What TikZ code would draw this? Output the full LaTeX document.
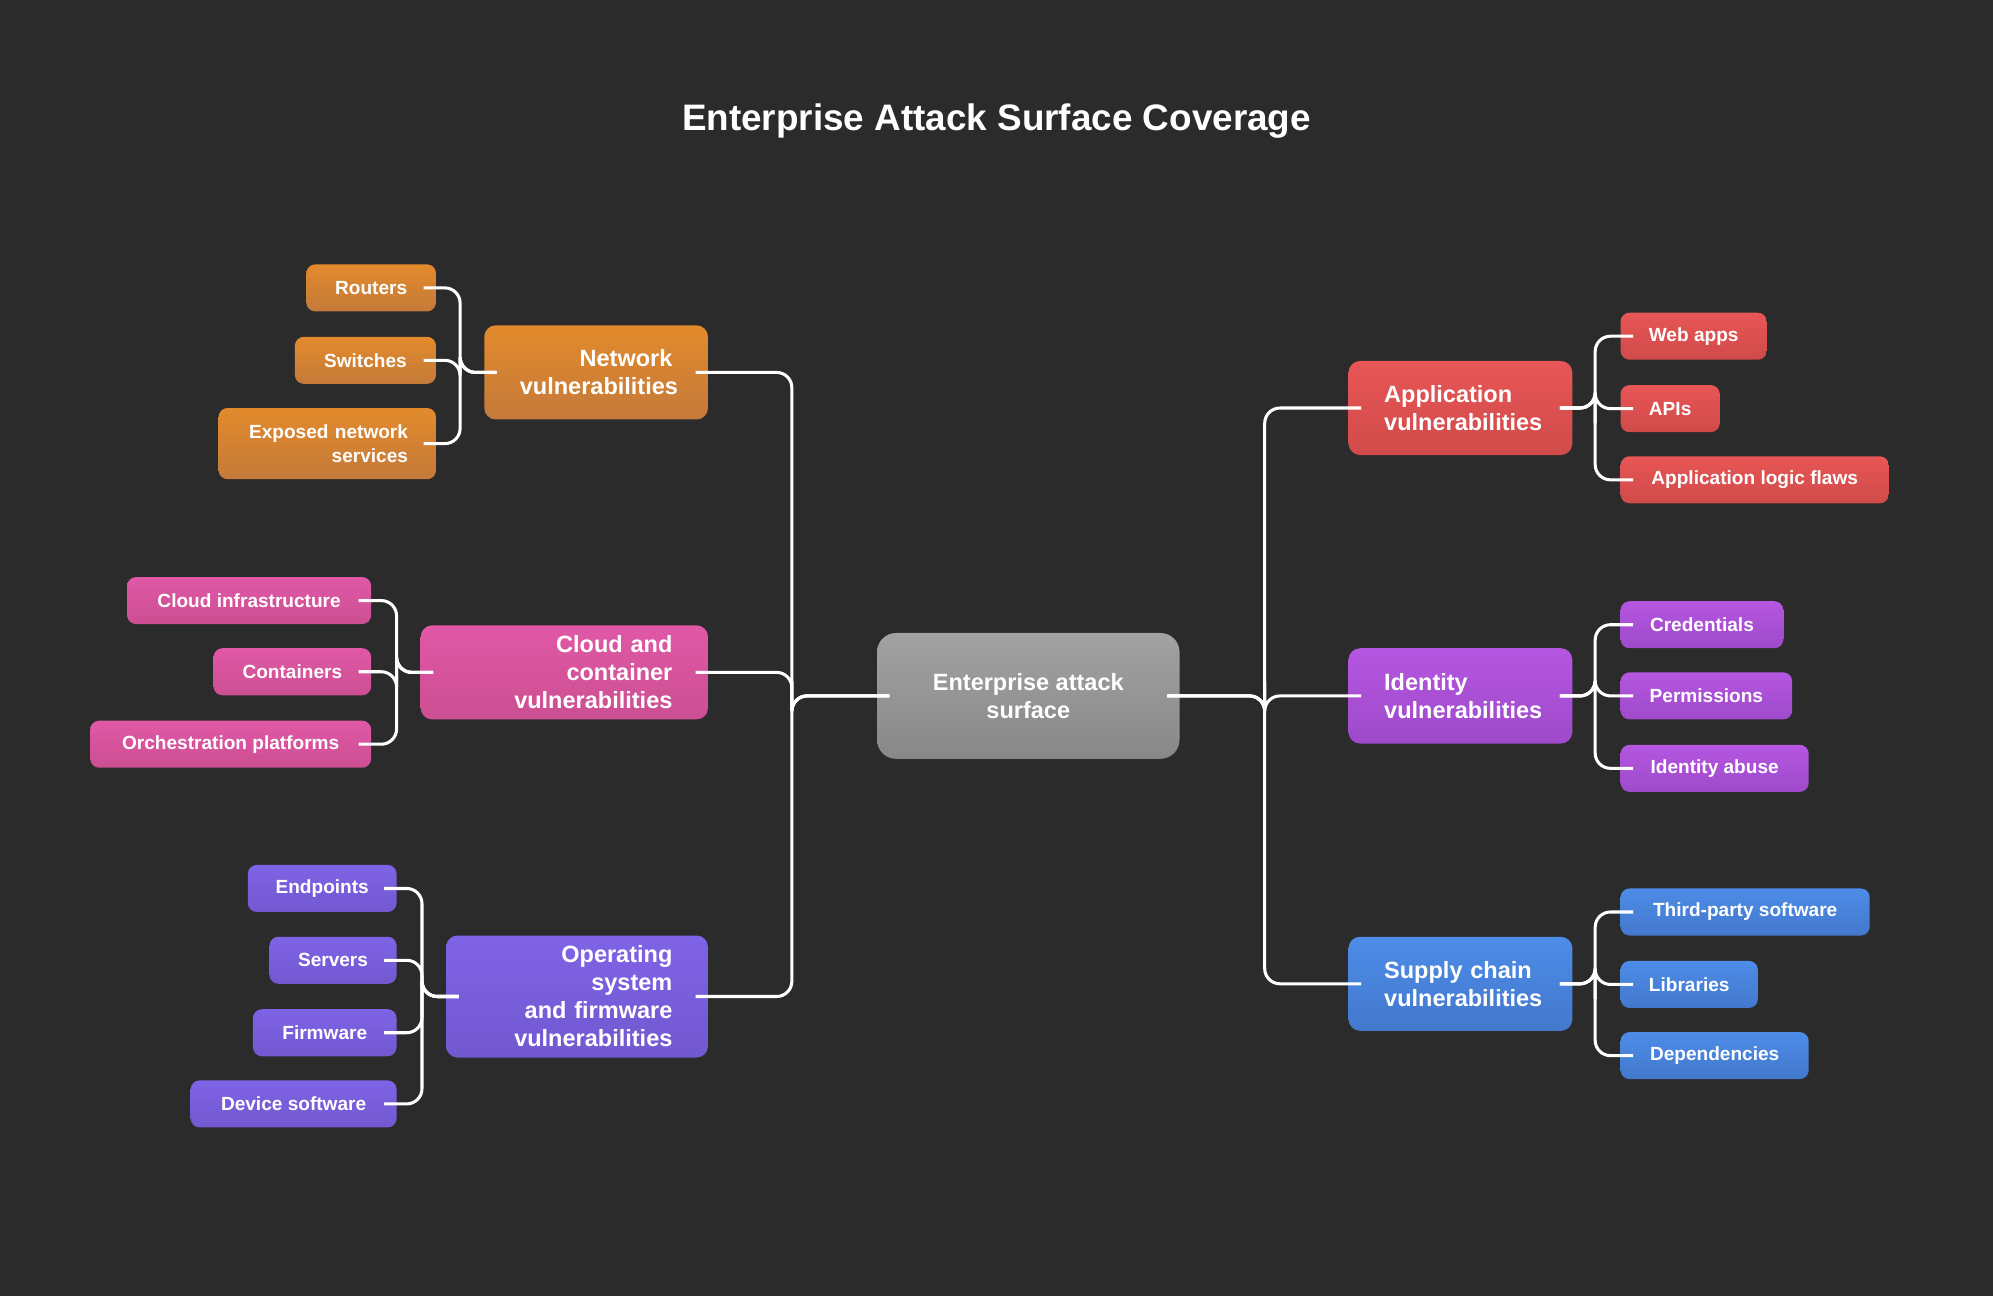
\documentclass[tikz,border=0pt]{standalone}
\usepackage{fontspec}
\setmainfont{Liberation Sans}
\begin{document}
\begin{tikzpicture}[x=1pt,y=-1pt,
 base/.style={text=white,inner sep=0pt,font=\bfseries\fontsize{15}{18}\selectfont},
 leaf/.style={base,rounded corners=7pt,minimum height=37pt},
 cat/.style={base,rounded corners=9pt,font=\bfseries\fontsize{18.5}{22}\selectfont},
 org/.style={top color=orange1,bottom color=orange2},
 pnk/.style={top color=pink1,bottom color=pink2},
 prp/.style={top color=purp1,bottom color=purp2},
 red/.style={top color=red1,bottom color=red2},
 vio/.style={top color=vio1,bottom color=vio2},
 blu/.style={top color=blue1,bottom color=blue2},
 con/.style={draw=white,line width=2.4pt,rounded corners=12pt}]
\definecolor{bg}{HTML}{2B2B2B}
\definecolor{orange1}{HTML}{E38A2C}\definecolor{orange2}{HTML}{C47A3A}
\definecolor{pink1}{HTML}{E058A6}\definecolor{pink2}{HTML}{CC4F92}
\definecolor{purp1}{HTML}{7F63E6}\definecolor{purp2}{HTML}{7258D0}
\definecolor{red1}{HTML}{E85656}\definecolor{red2}{HTML}{D04A4A}
\definecolor{vio1}{HTML}{B556E0}\definecolor{vio2}{HTML}{9E4ACA}
\definecolor{blue1}{HTML}{4D8CE8}\definecolor{blue2}{HTML}{4378CC}
\definecolor{gr1}{HTML}{A2A2A2}\definecolor{gr2}{HTML}{888888}
\fill[bg] (0,0) rectangle (1568,1020);
\useasboundingbox (0,0) rectangle (1568,1020);
\node[text=white,font=\bfseries\fontsize{29}{34}\selectfont] (title) at (784,95) {Enterprise Attack Surface Coverage};
% center
\node[base,rounded corners=15pt,top color=gr1,bottom color=gr2,minimum width=238pt,minimum height=99pt,align=center,font=\bfseries\fontsize{18.5}{22}\selectfont] (cen) at (809,547.5) {Enterprise attack\\surface};
% categories
\node[cat,org,minimum width=176pt,minimum height=74pt,text width=120pt,align=right] (net) at (469,293) {Network\\vulnerabilities};
\node[cat,pnk,minimum width=226pt,minimum height=74pt,text width=170pt,align=right] (cld) at (444,529) {Cloud and container\\vulnerabilities};
\node[cat,prp,minimum width=206pt,minimum height=96pt,text width=150pt,align=right] (os) at (454,784) {Operating system\\and firmware\\vulnerabilities};
\node[cat,red,minimum width=176pt,minimum height=74pt,text width=120pt,align=left] (app) at (1149,321) {Application\\vulnerabilities};
\node[cat,vio,minimum width=176pt,minimum height=75pt,text width=120pt,align=left] (idn) at (1149,547.5) {Identity\\vulnerabilities};
\node[cat,blu,minimum width=176pt,minimum height=74pt,text width=120pt,align=left] (sup) at (1149,774) {Supply chain\\vulnerabilities};
% leaves left
\node[leaf,org,minimum width=102pt] (n1) at (292,226.5) {Routers};
\node[leaf,org,minimum width=111pt] (n2) at (287.5,283.5) {Switches};
\node[leaf,org,minimum width=171pt,minimum height=56pt,text width=127pt,align=right,font=\bfseries\fontsize{15}{19}\selectfont] (n3) at (257.5,349) {Exposed network\\services};
\node[leaf,pnk,minimum width=192pt] (c1) at (196,472.5) {Cloud infrastructure};
\node[leaf,pnk,minimum width=124pt] (c2) at (230,528.5) {Containers};
\node[leaf,pnk,minimum width=221pt] (c3) at (181.5,585.5) {Orchestration platforms};
\node[leaf,prp,minimum width=117pt] (o1) at (253.5,699) {Endpoints};
\node[leaf,prp,minimum width=100pt] (o2) at (262,755.5) {Servers};
\node[leaf,prp,minimum width=113pt] (o3) at (255.5,812.5) {Firmware};
\node[leaf,prp,minimum width=162pt] (o4) at (231,868.5) {Device software};
% leaves right
\node[leaf,red,minimum width=115pt] (a1) at (1332.5,264.5) {Web apps};
\node[leaf,red,minimum width=78pt] (a2) at (1314,321.5) {APIs};
\node[leaf,red,minimum width=211pt] (a3) at (1380.5,377.5) {Application logic flaws};
\node[leaf,vio,minimum width=128pt] (i1) at (1339,491.5) {Credentials};
\node[leaf,vio,minimum width=135pt] (i2) at (1342.5,547.5) {Permissions};
\node[leaf,vio,minimum width=148pt] (i3) at (1349,604.5) {Identity abuse};
\node[leaf,blu,minimum width=196pt] (s1) at (1373,717.5) {Third-party software};
\node[leaf,blu,minimum width=108pt] (s2) at (1329,774.5) {Libraries};
\node[leaf,blu,minimum width=148pt] (s3) at (1349,830.5) {Dependencies};
% bus coordinates
\coordinate (bl) at (623,548);
\coordinate (br) at (995,548);
\coordinate (bn) at (362,293);
\coordinate (bc) at (312,529);
\coordinate (bo) at (332,784);
\coordinate (ba) at (1255,321);
\coordinate (bi) at (1255,547.5);
\coordinate (bs) at (1255,774);
% connectors
\foreach \c in {net,cld,os} \draw[con] ([xshift=10pt]cen.west) -| (bl) |- ([xshift=-10pt]\c.east);
\foreach \c in {app,idn,sup} \draw[con] ([xshift=-10pt]cen.east) -| (br) |- ([xshift=10pt]\c.west);
\foreach \l in {n1,n2,n3} \draw[con] ([xshift=10pt]net.west) -| (bn) |- ([xshift=-10pt]\l.east);
\foreach \l in {c1,c2,c3} \draw[con] ([xshift=10pt]cld.west) -| (bc) |- ([xshift=-10pt]\l.east);
\foreach \l in {o1,o2,o3,o4} \draw[con] ([xshift=10pt]os.west) -| (bo) |- ([xshift=-10pt]\l.east);
\foreach \l in {a1,a2,a3} \draw[con] ([xshift=-10pt]app.east) -| (ba) |- ([xshift=10pt]\l.west);
\foreach \l in {i1,i2,i3} \draw[con] ([xshift=-10pt]idn.east) -| (bi) |- ([xshift=10pt]\l.west);
\foreach \l in {s1,s2,s3} \draw[con] ([xshift=-10pt]sup.east) -| (bs) |- ([xshift=10pt]\l.west);
\end{tikzpicture}
\end{document}
